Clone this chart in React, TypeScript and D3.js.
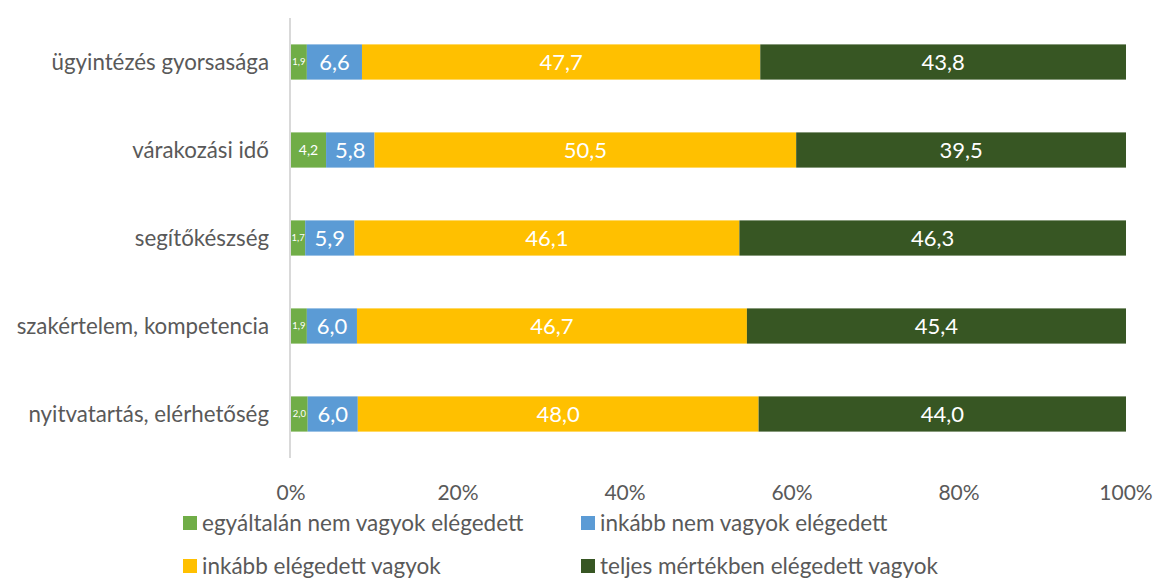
import React from "react";
import * as d3 from "d3";

const categories = [
  "ügyintézés gyorsasága",
  "várakozási idő",
  "segítőkészség",
  "szakértelem, kompetencia",
  "nyitvatartás, elérhetőség",
];
const seriesNames = [
  "egyáltalán nem vagyok elégedett",
  "inkább nem vagyok elégedett",
  "inkább elégedett vagyok",
  "teljes mértékben elégedett vagyok",
];
const notAtAll = [1.9, 4.2, 1.7, 1.9, 2.0];
const ratherNot = [6.6, 5.8, 5.9, 6.0, 6.0];
const rather = [47.7, 50.5, 46.1, 46.7, 48.0];
const fully = [43.8, 39.5, 46.3, 45.4, 44.0];
const ticks = [0, 20, 40, 60, 80, 100];
const colors = ["#70AD47", "#5B9BD5", "#FFC000", "#375623"];

const W = 1156;
const H = 578;
const FONT = "Lato, 'Open Sans', sans-serif";

export default function App() {
  const series = [notAtAll, ratherNot, rather, fully];
  const x = d3.scaleLinear().domain([0, 100]).range([291, 1126]);
  const y = d3.scaleBand<string>().domain(categories).range([18, 458]).paddingInner(0.6).paddingOuter(0.3);
  const rows = categories.map((c, i) => ({ c, vals: series.map((s) => s[i]) }));
  const stack = d3.stack<any>().keys(["0", "1", "2", "3"]).value((d: any, k: string) => d.vals[+k]);
  const stacked = stack(rows as any);
  const fmt = (v: number) => v.toFixed(1).replace(".", ",");
  const legendPos = [
    { x: 183, y: 523 },
    { x: 581, y: 523 },
    { x: 183, y: 566 },
    { x: 581, y: 566 },
  ];
  return (
    <svg width={W} height={H} style={{ display: "block", position: "absolute", left: 0, top: 0 }} fontFamily={FONT}>
      <rect width={W} height={H} fill="#fff" />
      {stacked.map((layer, si) =>
        layer.map((d, i) => {
          const x0 = x(d[0]);
          const x1 = x(d[1]);
          const w = x1 - x0;
          const v = series[si][i];
          const yy = y(categories[i])!;
          const fs = w < 20 ? 9.5 : w < 40 ? 14 : 22;
          return (
            <g key={`${si}-${i}`}>
              <rect x={x0} y={yy} width={w} height={y.bandwidth()} fill={colors[si]} />
              <text
                x={(x0 + x1) / 2}
                y={yy + y.bandwidth() / 2}
                dy="0.35em"
                textAnchor="middle"
                fill="#fff"
                fontSize={fs}
              >
                {fmt(v)}
              </text>
            </g>
          );
        })
      )}
      <line x1={290} x2={290} y1={18} y2={458} stroke="#d9d9d9" strokeWidth={2} />
      {categories.map((c) => (
        <text key={c} x={269} y={y(c)! + y.bandwidth() / 2} dy="0.35em" textAnchor="end" fill="#595959" fontSize={22.3}>
          {c}
        </text>
      ))}
      {ticks.map((t) => (
        <text key={t} x={x(t)} y={493} dy="0.35em" textAnchor="middle" fill="#595959" fontSize={21}>
          {t}%
        </text>
      ))}
      {seriesNames.map((n, i) => (
        <g key={n}>
          <rect x={legendPos[i].x} y={legendPos[i].y - 7} width={14} height={14} fill={colors[i]} />
          <text x={legendPos[i].x + 19} y={legendPos[i].y} dy="0.35em" fill="#595959" fontSize={22.5}>
            {n}
          </text>
        </g>
      ))}
    </svg>
  );
}
